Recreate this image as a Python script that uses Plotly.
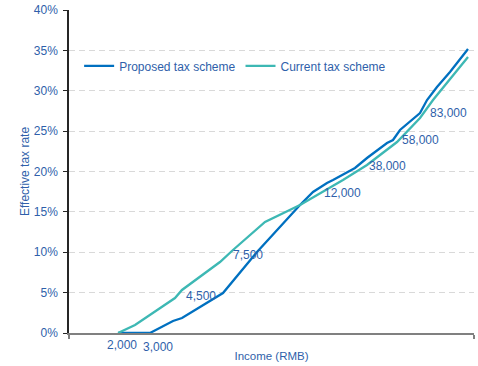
import plotly.graph_objects as go

# Horizontal position along the income axis (0 = left edge, 100 = right edge)
proposed_pos = [12.10, 20.00, 25.68, 27.90, 38.02, 46.42, 57.04, 60.25, 63.70, 65.19,
                70.62, 73.58, 78.52, 80.00, 81.73, 86.67, 88.40, 90.86, 94.07, 98.52]
proposed_rate = [0.00, 0.00, 1.49, 1.86, 4.95, 10.03, 15.85, 17.46, 18.58, 18.95,
                 20.44, 21.67, 23.53, 23.90, 25.14, 27.24, 28.85, 30.47, 32.32, 35.17]

current_pos = [12.10, 16.30, 26.17, 27.90, 37.28, 40.49, 48.40, 57.04, 67.65,
               73.58, 80.99, 86.67, 89.88, 98.52]
current_rate = [0.00, 0.99, 4.33, 5.33, 8.79, 10.28, 13.75, 15.85, 18.95,
                20.81, 23.65, 26.63, 28.85, 34.18]

# Income thresholds / bracket boundaries written next to the curves
income_labels = ["2,000", "3,000", "4,500", "7,500", "12,000", "38,000", "58,000", "83,000"]
label_pos = [13.09, 21.98, 32.59, 44.20, 67.41, 78.52, 86.67, 93.58]
label_rate = [-1.49, -1.73, 4.58, 9.66, 17.34, 20.68, 23.90, 27.24]

y_ticks = [0, 5, 10, 15, 20, 25, 30, 35, 40]
Y_MAX = 40

FONT = "Liberation Sans, Arial, sans-serif"
TEXT_BLUE = "#2F5FAA"

fig = go.Figure()
fig.add_trace(go.Scatter(x=proposed_pos, y=proposed_rate, mode="lines",
                         name="Proposed tax scheme",
                         line=dict(color="#0070C0", width=2.3)))
fig.add_trace(go.Scatter(x=current_pos, y=current_rate, mode="lines",
                         name="Current tax scheme",
                         line=dict(color="#3DB8B4", width=2.3)))

# Income labels: x in data units, y converted to the plot's vertical fraction
for txt, xp, yr in zip(income_labels, label_pos, label_rate):
    fig.add_annotation(x=xp, y=yr / Y_MAX, xref="x", yref="paper", text=txt,
                       showarrow=False, xanchor="center", yanchor="middle",
                       font=dict(family=FONT, size=12, color=TEXT_BLUE))

fig.update_layout(
    width=478, height=366,
    margin=dict(l=69, r=4, t=10, b=33),
    paper_bgcolor="white", plot_bgcolor="white",
    font=dict(family=FONT, size=12, color=TEXT_BLUE),
    showlegend=True,
    legend=dict(orientation="h", x=0.025, y=0.827, xanchor="left", yanchor="middle",
                font=dict(family=FONT, size=12, color=TEXT_BLUE),
                bgcolor="rgba(0,0,0,0)", itemwidth=30, tracegroupgap=0),
)

fig.update_xaxes(
    range=[0, 100], showgrid=False, zeroline=False,
    showline=True, linecolor="#808080", linewidth=2,
    ticks="outside", ticklen=4, tickcolor="#808080", tickwidth=1.5,
    tickvals=[0, 100], showticklabels=False,
    title=dict(text="Income (RMB)", font=dict(family=FONT, size=11.5, color=TEXT_BLUE),
               standoff=14),
)
fig.update_yaxes(
    range=[0, Y_MAX], tickvals=y_ticks, ticktext=[f"{v}%" for v in y_ticks],
    showgrid=True, gridcolor="#D9D9D9", gridwidth=1, griddash="6px,4px",
    zeroline=False, showline=True, linecolor="#262626", linewidth=1.5,
    ticks="outside", ticklen=4, tickcolor="#262626", tickwidth=1.2,
    ticklabelstandoff=3,
    tickfont=dict(family=FONT, size=12, color=TEXT_BLUE),
    title=dict(text="Effective tax rate", font=dict(family=FONT, size=12, color=TEXT_BLUE),
               standoff=2),
)

fig.write_html("out.html")
